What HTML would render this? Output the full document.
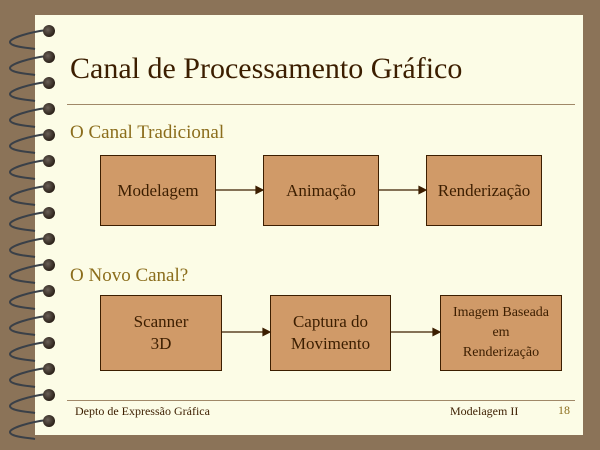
<!DOCTYPE html>
<html><head><style>
body{margin:0;width:600px;height:450px;background:#8b7358;position:relative;overflow:hidden;font-family:"Liberation Serif",serif}
.pg{position:absolute;left:35px;top:15px;width:548px;height:420px;background:#fcfce6}
.t{position:absolute;color:#3c1e00}
.b{position:absolute;background:#d09a68;border:1.5px solid #3c1e00;box-sizing:border-box;display:flex;align-items:center;justify-content:center;text-align:center;color:#3c1e00;font-size:17px;line-height:22px}
.h{position:absolute;color:#8b6d1c;font-size:19px}
</style></head><body>
<div class="pg"></div>
<svg style="position:absolute;left:0;top:0" width="60" height="450">
<g id="r">
</g>
<script></script>
</svg>
<svg style="position:absolute;left:0;top:0" width="60" height="450">
<defs><radialGradient id="g" cx="0.4" cy="0.4" r="0.6"><stop offset="0" stop-color="#6a6058"/><stop offset="1" stop-color="#2a2018"/></radialGradient></defs>
<g fill="none" stroke-width="2">
<path d="M47 30 C30 32 10 38 10 42 C10 47 30 48 35 49" stroke="#3a4048"/>
<path d="M47 56 C30 58 10 64 10 68 C10 73 30 74 35 75" stroke="#3a4048"/>
<path d="M47 82 C30 84 10 90 10 94 C10 99 30 100 35 101" stroke="#3a4048"/>
<path d="M47 108 C30 110 10 116 10 120 C10 125 30 126 35 127" stroke="#3a4048"/>
<path d="M47 134 C30 136 10 142 10 146 C10 151 30 152 35 153" stroke="#3a4048"/>
<path d="M47 160 C30 162 10 168 10 172 C10 177 30 178 35 179" stroke="#3a4048"/>
<path d="M47 186 C30 188 10 194 10 198 C10 203 30 204 35 205" stroke="#3a4048"/>
<path d="M47 212 C30 214 10 220 10 224 C10 229 30 230 35 231" stroke="#3a4048"/>
<path d="M47 238 C30 240 10 246 10 250 C10 255 30 256 35 257" stroke="#3a4048"/>
<path d="M47 264 C30 266 10 272 10 276 C10 281 30 282 35 283" stroke="#3a4048"/>
<path d="M47 290 C30 292 10 298 10 302 C10 307 30 308 35 309" stroke="#3a4048"/>
<path d="M47 316 C30 318 10 324 10 328 C10 333 30 334 35 335" stroke="#3a4048"/>
<path d="M47 342 C30 344 10 350 10 354 C10 359 30 360 35 361" stroke="#3a4048"/>
<path d="M47 368 C30 370 10 376 10 380 C10 385 30 386 35 387" stroke="#3a4048"/>
<path d="M47 394 C30 396 10 402 10 406 C10 411 30 412 35 413" stroke="#3a4048"/>
<path d="M47 420 C30 422 10 428 10 432 C10 437 30 438 35 439" stroke="#3a4048"/>
</g>
<g fill="url(#g)">
<circle cx="49" cy="31" r="6"/><circle cx="49" cy="57" r="6"/><circle cx="49" cy="83" r="6"/><circle cx="49" cy="109" r="6"/><circle cx="49" cy="135" r="6"/><circle cx="49" cy="161" r="6"/><circle cx="49" cy="187" r="6"/><circle cx="49" cy="213" r="6"/><circle cx="49" cy="239" r="6"/><circle cx="49" cy="265" r="6"/><circle cx="49" cy="291" r="6"/><circle cx="49" cy="317" r="6"/><circle cx="49" cy="343" r="6"/><circle cx="49" cy="369" r="6"/><circle cx="49" cy="395" r="6"/><circle cx="49" cy="421" r="6"/>
</g>
</svg>
<div class="t" style="left:70px;top:52px;font-size:30px">Canal de Processamento Gráfico</div>
<div style="position:absolute;left:67px;top:104px;width:508px;height:1px;background:#a08868"></div>
<div class="h" style="left:70px;top:122px">O Canal Tradicional</div>
<div class="h" style="left:70px;top:265px">O Novo Canal?</div>
<div class="b" style="left:100px;top:155px;width:116px;height:71px">Modelagem</div>
<div class="b" style="left:263px;top:155px;width:116px;height:71px">Animação</div>
<div class="b" style="left:426px;top:155px;width:116px;height:71px">Renderização</div>
<div class="b" style="left:100px;top:295px;width:122px;height:76px">Scanner<br>3D</div>
<div class="b" style="left:270px;top:295px;width:121px;height:76px">Captura do<br>Movimento</div>
<div class="b" style="left:440px;top:295px;width:122px;height:76px;font-size:14px;line-height:20px">Imagem Baseada<br>em<br>Renderização</div>
<svg style="position:absolute;left:0;top:0" width="600" height="450">
<g stroke="#3c1e00" stroke-width="1.2" fill="#3c1e00">
<line x1="216" y1="190" x2="258" y2="190"/><path d="M263 190 L256 186.5 L256 193.5Z"/>
<line x1="379" y1="190" x2="421" y2="190"/><path d="M426 190 L419 186.5 L419 193.5Z"/>
<line x1="222" y1="332" x2="265" y2="332"/><path d="M270 332 L263 328.5 L263 335.5Z"/>
<line x1="391" y1="332" x2="435" y2="332"/><path d="M440 332 L433 328.5 L433 335.5Z"/>
</g></svg>
<div style="position:absolute;left:67px;top:400px;width:508px;height:1px;background:#a08868"></div>
<div class="t" style="left:75px;top:404px;font-size:12px">Depto de Expressão Gráfica</div>
<div class="t" style="left:450px;top:404px;font-size:12px">Modelagem II</div>
<div class="h" style="left:558px;top:403px;font-size:12px">18</div>
</body></html>
